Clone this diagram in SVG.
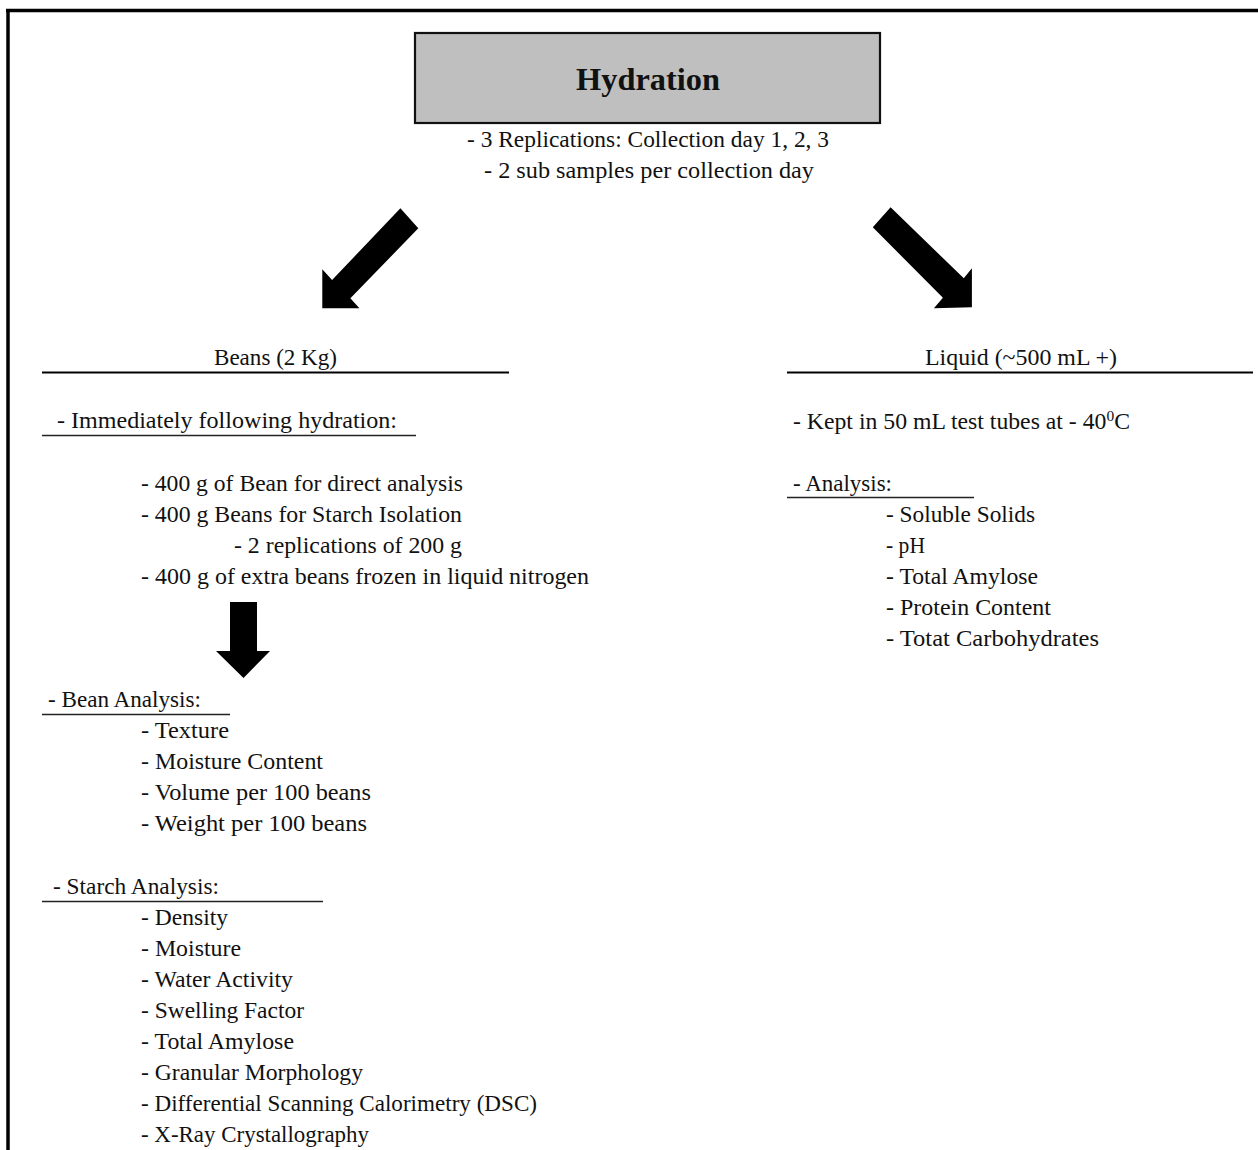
<svg xmlns="http://www.w3.org/2000/svg" width="1258" height="1150" viewBox="0 0 1258 1150">
<style>
text{font-family:"Liberation Serif","DejaVu Serif",serif;font-size:23px;fill:#111}
.t{font-weight:bold;font-size:31px}
.rule{stroke:#000;stroke-width:2.2}
.thin{stroke:#222;stroke-width:1.6}
.arrow{fill:#000}
</style>
<rect width="1258" height="1150" fill="#fff"/>
<g id="frame">
<line x1="6" y1="10.5" x2="1258" y2="10.5" stroke="#000" stroke-width="3.5"/>
<line x1="8" y1="9" x2="8" y2="1150" stroke="#000" stroke-width="3.5"/>
</g>
<g id="hydration">
<rect x="415" y="33" width="465" height="90" fill="#bfbfbf" stroke="#111" stroke-width="2.2"/>
<text class="t" x="576" y="90" textLength="144" lengthAdjust="spacingAndGlyphs">Hydration</text>
<text x="467" y="147" textLength="362" lengthAdjust="spacingAndGlyphs">- 3 Replications: Collection day 1, 2, 3</text>
<text x="484" y="178" textLength="330" lengthAdjust="spacingAndGlyphs">- 2 sub samples per collection day</text>
</g>
<g id="connectors">
<polygon class="arrow" points="400.4,208.3 418.3,228.3 350.4,298.3 359.4,308.3 322.3,308.3 322.3,269.3 332.1,280"/>
<polygon class="arrow" points="890.6,207.3 963.8,278.3 971.9,268.3 971.9,307.3 933.9,308.3 942.9,297.7 872.8,227.3"/>
<polygon class="arrow" points="230,602 257,602 257,651 270,651 243.5,678 216,651 230,651"/>
</g>
<g id="beans">
<text x="214" y="365" textLength="123" lengthAdjust="spacingAndGlyphs">Beans (2 Kg)</text>
<line class="rule" x1="42" y1="372.5" x2="509" y2="372.5"/>
<text x="57" y="428" textLength="340" lengthAdjust="spacingAndGlyphs">- Immediately following hydration:</text>
<line class="thin" x1="42" y1="435.5" x2="416" y2="435.5"/>
<text x="141" y="491" textLength="322" lengthAdjust="spacingAndGlyphs">- 400 g of Bean for direct analysis</text>
<text x="141" y="522" textLength="321" lengthAdjust="spacingAndGlyphs">- 400 g Beans for Starch Isolation</text>
<text x="234" y="553" textLength="228" lengthAdjust="spacingAndGlyphs">- 2 replications of 200 g</text>
<text x="141" y="584" textLength="448" lengthAdjust="spacingAndGlyphs">- 400 g of extra beans frozen in liquid nitrogen</text>
</g>
<g id="bean-analysis">
<text x="48" y="707" textLength="153" lengthAdjust="spacingAndGlyphs">- Bean Analysis:</text>
<line class="thin" x1="42" y1="714.5" x2="230" y2="714.5"/>
<text x="141" y="738" textLength="88" lengthAdjust="spacingAndGlyphs">- Texture</text>
<text x="141" y="769" textLength="182" lengthAdjust="spacingAndGlyphs">- Moisture Content</text>
<text x="141" y="800" textLength="230" lengthAdjust="spacingAndGlyphs">- Volume per 100 beans</text>
<text x="141" y="831" textLength="226" lengthAdjust="spacingAndGlyphs">- Weight per 100 beans</text>
</g>
<g id="starch-analysis">
<text x="53" y="894" textLength="166" lengthAdjust="spacingAndGlyphs">- Starch Analysis:</text>
<line class="thin" x1="42" y1="901.5" x2="323" y2="901.5"/>
<text x="141" y="925" textLength="87" lengthAdjust="spacingAndGlyphs">- Density</text>
<text x="141" y="956" textLength="100" lengthAdjust="spacingAndGlyphs">- Moisture</text>
<text x="141" y="987" textLength="152" lengthAdjust="spacingAndGlyphs">- Water Activity</text>
<text x="141" y="1018" textLength="163" lengthAdjust="spacingAndGlyphs">- Swelling Factor</text>
<text x="141" y="1049" textLength="153" lengthAdjust="spacingAndGlyphs">- Total Amylose</text>
<text x="141" y="1080" textLength="222" lengthAdjust="spacingAndGlyphs">- Granular Morphology</text>
<text x="141" y="1111" textLength="396" lengthAdjust="spacingAndGlyphs">- Differential Scanning Calorimetry (DSC)</text>
<text x="141" y="1142" textLength="228" lengthAdjust="spacingAndGlyphs">- X-Ray Crystallography</text>
</g>
<g id="liquid">
<text x="925" y="365" textLength="192" lengthAdjust="spacingAndGlyphs">Liquid (~500 mL +)</text>
<line class="rule" x1="787" y1="372.5" x2="1253" y2="372.5"/>
<text x="793" y="429" textLength="337" lengthAdjust="spacingAndGlyphs">- Kept in 50 mL test tubes at - 40<tspan font-size="15" dy="-8">0</tspan><tspan dy="8">C</tspan></text>
<text x="793" y="491" textLength="99" lengthAdjust="spacingAndGlyphs">- Analysis:</text>
<line class="thin" x1="787" y1="497.5" x2="974" y2="497.5"/>
<text x="886" y="522" textLength="149" lengthAdjust="spacingAndGlyphs">- Soluble Solids</text>
<text x="886" y="553" textLength="39" lengthAdjust="spacingAndGlyphs">- pH</text>
<text x="886" y="584" textLength="152" lengthAdjust="spacingAndGlyphs">- Total Amylose</text>
<text x="886" y="615" textLength="165" lengthAdjust="spacingAndGlyphs">- Protein Content</text>
<text x="886" y="646" textLength="213" lengthAdjust="spacingAndGlyphs">- Totat Carbohydrates</text>
</g>
</svg>
